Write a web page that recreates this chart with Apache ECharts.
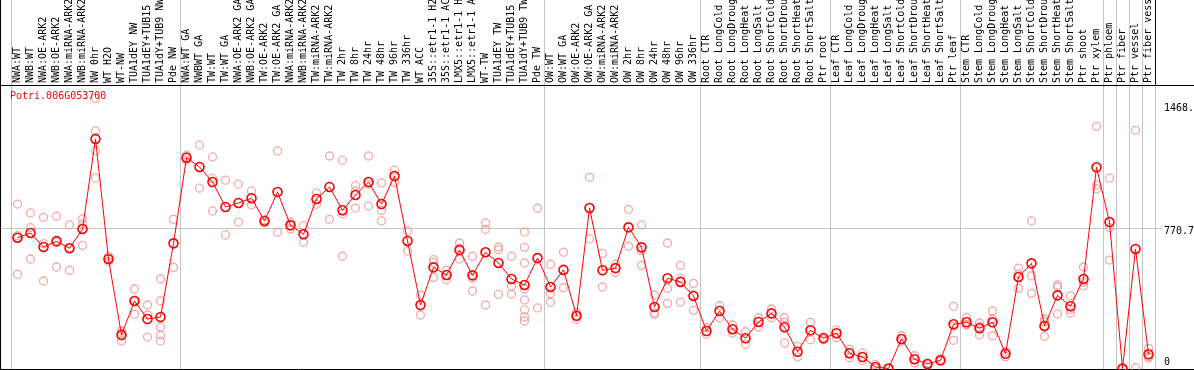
<!DOCTYPE html>
<html>
<head>
<meta charset="utf-8">
<script src="https://cdn.jsdelivr.net/npm/echarts@6/dist/echarts.min.js"></script>
<style>
html,body{margin:0;padding:0;background:#fff;}
#c{width:1194px;height:370px;}
</style>
</head>
<body>
<div id="c"></div>
<script>
const geneName = 'Potri.006G053700';

const categories = [
  'NWA:WT','NWB:WT','NWA:OE-ARK2','NWB:OE-ARK2','NWA:miRNA-ARK2','NWB:miRNA-ARK2','NW 0hr','WT H2O','WT-NW',
  'TUA1dEY NW','TUA1dEY+TUB15 NW','TUA1dY+TUB9 NW','Pde NW',
  'NWA:WT GA','NWBWT GA','TW:WT','TW:WT GA','NWA:OE-ARK2 GA','NWB:OE-ARK2 GA','TW:OE-ARK2','TW:OE-ARK2 GA',
  'NWA:miRNA-ARK2','NWB:miRNA-ARK2','TW:miRNA-ARK2','TW:miRNA-ARK2','TW 2hr','TW 8hr','TW 24hr','TW 48hr','TW 96hr','TW 336hr',
  'WT ACC','35S::etr1-1 H2O','35S::etr1-1 ACC','LMX5::etr1-1 H2O','LMX5::etr1-1 ACC','WT-TW','TUA1dEY TW','TUA1dEY+TUB15 TW','TUA1dY+TUB9 TW','Pde TW',
  'OW:WT','OW:WT GA','OW:OE-ARK2','OW:OE-ARK2 GA','OW:miRNA-ARK2','OW:miRNA-ARK2','OW 2hr','OW 8hr','OW 24hr','OW 48hr','OW 96hr','OW 336hr',
  'Root CTR','Root LongCold','Root LongDrought','Root LongHeat','Root LongSalt','Root ShortCold','Root ShortDrought','Root ShortHeat','Root ShortSalt','Ptr root',
  'Leaf CTR','Leaf LongCold','Leaf LongDrought','Leaf LongHeat','Leaf LongSalt','Leaf ShortCold','Leaf ShortDrought','Leaf ShortHeat','Leaf ShortSalt','Ptr leaf',
  'Stem CTR','Stem LongCold','Stem LongDrought','Stem LongHeat','Stem LongSalt','Stem ShortCold','Stem ShortDrought','Stem ShortHeat','Stem ShortSalt','Ptr shoot',
  'Ptr xylem','Ptr phloem','Ptr fiber','Ptr vessel','Ptr fiber vessel'
];

const meanValues = [
  719,745,668,699,661,767,1262,602,184,371,272,283,688,
  1159,1108,1025,888,910,936,811,970,787,738,932,998,870,954,1025,904,1058,701,349,556,514,651,512,639,580,492,459,607,
  448,542,290,882,540,552,776,666,338,496,476,399,
  206,316,216,166,256,303,227,92,210,166,
  194,84,63,8,0,162,51,25,45,243,
  254,221,254,81,503,578,234,402,342,492,
  1106,805,0,657,78
];

const replicateValues = [
  [904,730,518],[855,774,602],[831,686,481],[837,705,558],[789,661,540],[822,793,677],
  [1485,1306,1196,1046],[617,587,602],[206,195,151],[437,375,298],[349,294,173],
  [492,371,228,184,151],[820,556],
  [1174,1145],[1229,991],[1163,1046,866],[1035,734],[1014,805],[976,899],[818,800],[1196,749],
  [804,767],[785,694],[965,903],[1168,820],[1145,851,617],[1005,976,882],[1168,1013,893],[1020,870,811],
  [1090,1024],[756,646],[404,294],[598,582,501],[540,488],[690,661,602],[617,496,426],[800,765,349],
  [668,653,408],[617,452,408],[750,666,580,437,377,322,283,261],[881,333],
  [573,411,364],[639,444],[309,271],[1051,712],[633,448],[573,527],[875,672],[789,648,567],
  [404,305,298],[690,441,358],[567,495,364],[468,320],
  [224,188],[345,279],[239,195],[202,133],[279,228],[327,279],[279,254,140],[122,63],[254,158],[173,158],
  [212,169],[106,59],[84,45],[23,1],[0,0],[180,151],[70,31],[29,19],[52,40],[342,232,155],
  [281,242,239],[250,230,184],[316,272,180],[92,65],[552,521,441],[811,509,413],[272,257,177],[459,448,300],[399,325,305],[558,474,454],
  [1331,1009,987],[1046,774,596],[0,0],[1309,4],[111,64,59]
];

const separatorIndices = [0, 13, 41, 53, 63, 73, 84, 85, 86, 87];
const yTickValues = [1468, 770.7, 0];
const yTickLabels = ['1468.', '770.7', '0'];

const MONO = 'DejaVu Sans Mono';
const sepSet = new Set(separatorIndices);
const replicatePoints = [];
replicateValues.forEach((arr, i) => arr.forEach(v => replicatePoints.push([i, v])));

const chart = echarts.init(document.getElementById('c'), null, {renderer: 'canvas'});

const splitLineCfg = {
  show: true,
  interval: (idx) => sepSet.has(idx),
  lineStyle: {color: '#c4c4c4', width: 1}
};

chart.setOption({
  animation: false,
  backgroundColor: '#ffffff',
  title: {
    text: geneName, left: 10, top: 91, padding: 0,
    textStyle: {color: '#ff0000', fontFamily: MONO, fontSize: 10, fontWeight: 'normal'}
  },
  grid: [
    {left: 11, right: 39, top: 85, bottom: 1, containLabel: false, outerBoundsMode: 'none'},
    {left: 11, right: 39, top: 0, height: 85, containLabel: false, outerBoundsMode: 'none'}
  ],
  xAxis: [
    {
      type: 'category', gridIndex: 0, data: categories, position: 'top', boundaryGap: true,
      axisLine: {show: false}, axisTick: {show: false},
      axisLabel: {show: true, rotate: 90, interval: 0, margin: 2, color: '#000',
                  fontFamily: MONO, fontSize: 10, hideOverlap: false},
      splitLine: splitLineCfg
    },
    {
      type: 'category', gridIndex: 1, data: categories, boundaryGap: true,
      axisLine: {show: false}, axisTick: {show: false}, axisLabel: {show: false},
      splitLine: splitLineCfg
    }
  ],
  yAxis: [
    {type: 'value', gridIndex: 0, min: -2.75, max: 1558.4, show: false, splitLine: {show: false}},
    {type: 'value', gridIndex: 1, min: 0, max: 1, show: false, splitLine: {show: false}}
  ],
  series: [
    {
      type: 'scatter', name: 'replicates', xAxisIndex: 0, yAxisIndex: 0,
      data: replicatePoints, symbol: 'circle', symbolSize: 8, z: 3, silent: true,
      itemStyle: {color: 'rgba(255,255,255,0)', borderColor: '#ee9595', borderWidth: 1.3}
    },
    {
      type: 'line', name: 'mean', xAxisIndex: 0, yAxisIndex: 0,
      data: meanValues, symbol: 'circle', symbolSize: 9, showAllSymbol: true, z: 4, silent: true,
      lineStyle: {color: '#ff0000', width: 1},
      itemStyle: {color: 'rgba(255,255,255,0)', borderColor: '#ff0000', borderWidth: 1.6}
    }
  ]
});

// decorations computed from the library's scales
const py = v => chart.convertToPixel({yAxisIndex: 0}, v);
const gridLineY = Math.round(py(770.7)) + 0.5;
const graphics = [
  {type: 'line', z: 1, shape: {x1: 1, y1: gridLineY, x2: 1162, y2: gridLineY}, style: {stroke: '#c4c4c4', lineWidth: 1}},
  {type: 'line', z: 10, shape: {x1: 0.5, y1: 0, x2: 0.5, y2: 370}, style: {stroke: '#000', lineWidth: 1}},
  {type: 'line', z: 10, shape: {x1: 0, y1: 85.5, x2: 1194, y2: 85.5}, style: {stroke: '#000', lineWidth: 1}},
  {type: 'line', z: 1, shape: {x1: 0, y1: 369.5, x2: 1194, y2: 369.5}, style: {stroke: '#000', lineWidth: 1}},
  {type: 'line', z: 10, shape: {x1: 1155.5, y1: 0, x2: 1155.5, y2: 85}, style: {stroke: '#000', lineWidth: 1}}
];
yTickValues.forEach((v, i) => {
  const y = Math.min(Math.max(py(v) + 3.5, 108), 362);
  graphics.push({
    type: 'text', z: 10, x: 1164, y: y,
    style: {text: yTickLabels[i], fill: '#000', font: '10px "' + MONO + '"', textVerticalAlign: 'middle', textAlign: 'left'}
  });
});
chart.setOption({graphic: graphics});
</script>
</body>
</html>
